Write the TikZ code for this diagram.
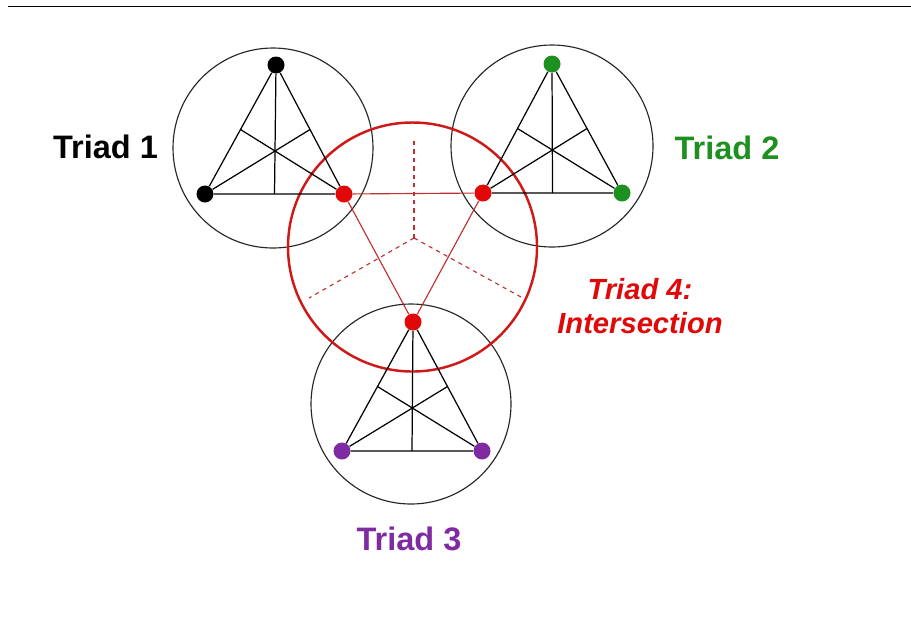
\documentclass[tikz,border=0pt]{standalone}
\usepackage{fontspec}
\setmainfont{Liberation Sans}
\usetikzlibrary{calc}
\definecolor{triadred}{HTML}{E00808}
\definecolor{ringred}{HTML}{D01818}
\definecolor{linered}{HTML}{C03030}
\definecolor{triadgreen}{HTML}{1E9020}
\definecolor{triadpurple}{HTML}{7F2AA0}
\tikzset{
	dot/.style={circle, fill, inner sep=0pt, minimum size=0.34cm}
}
\tikzset{
	ring/.style={draw=black!85, line width=0.65pt},
	redring/.style={draw=ringred, line width=1.4pt},
	edge/.style={draw=black, line width=0.7pt},
	rededge/.style={draw=linered, line width=0.65pt},
	reddash/.style={draw=linered, line width=0.65pt, dash pattern=on 2.4pt off 2.4pt},
	triadtext/.style={font=\fontsize{18.5}{22}\selectfont\bfseries, inner sep=0pt}
}
\begin{document}
\begin{tikzpicture}[x=0.02cm, y=-0.02cm]
      \useasboundingbox (0,0) rectangle (911,620);
      \draw[line width=0.9pt] (8,6.3) -- (911,6.3);
      % circles of the three triads and of the intersection
      \draw[ring] (273,148) circle[radius=100];
      \draw[ring] (552,146) circle[radius=101];
      \draw[ring] (411,404) circle[radius=100];
      \draw[redring] (412.5,247) circle[radius=124.5];
      % vertices
      \node[dot, black] (t1a) at (276,65) {};
      \node[dot, black] (t1b) at (205,194) {};
      \node[dot, triadred] (t1c) at (344,194) {};
      \node[dot, triadgreen] (t2a) at (552,64) {};
      \node[dot, triadred] (t2b) at (483,193) {};
      \node[dot, triadgreen] (t2c) at (622,193) {};
      \node[dot, triadred] (t3a) at (413,322) {};
      \node[dot, triadpurple] (t3b) at (342,451) {};
      \node[dot, triadpurple] (t3c) at (482,451) {};
      % midpoints of the sides
      \foreach \t in {1,2,3} {
        \coordinate (t\t ab) at ($(t\t a)!0.5!(t\t b)$);
        \coordinate (t\t bc) at ($(t\t b)!0.5!(t\t c)$);
        \coordinate (t\t ca) at ($(t\t c)!0.5!(t\t a)$);
        \draw[edge] (t\t a) -- (t\t b) -- (t\t c) -- (t\t a);
        \draw[edge] (t\t a) -- (t\t bc);
        \draw[edge] (t\t b) -- (t\t ca);
        \draw[edge] (t\t c) -- (t\t ab);
      }
      % triad 4 from the shared vertices
      \coordinate (cc) at (414,238);
      \coordinate (d1) at (414,137);
      \coordinate (d2) at (309,298);
      \coordinate (d3) at (521,297);
      \draw[rededge] (t1c) -- (t2b);
      \draw[rededge] (t1c) -- (t3a);
      \draw[rededge] (t2b) -- (t3a);
      \draw[reddash] (cc) -- (d1);
      \draw[reddash] (cc) -- (d2);
      \draw[reddash] (cc) -- (d3);
      % names
      \node[triadtext, black] (n1) at (105.5,147) {Triad 1};
      \node[triadtext, triadgreen] (n2) at (727,148) {Triad 2};
      \node[triadtext, triadpurple] (n3) at (409,539) {Triad 3};
      \node[triadtext, triadred, font=\fontsize{16.6}{19.3}\selectfont\bfseries\itshape, align=center] (n4) at (640,306) {Triad 4:\\Intersection};
    \end{tikzpicture}
\end{document}
